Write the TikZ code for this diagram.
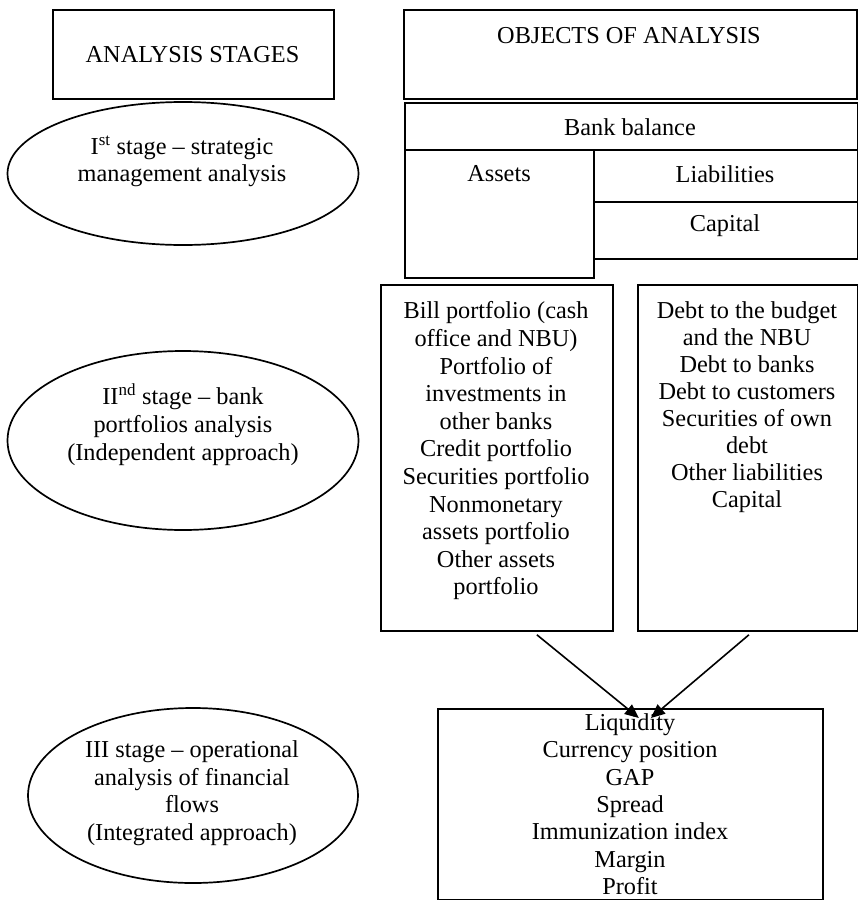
\documentclass[tikz,border=0pt]{standalone}
\usepackage{fontspec}
\setmainfont{Liberation Serif}
\usetikzlibrary{shapes.geometric,arrows.meta}
\begin{document}
\begin{tikzpicture}[x=1pt,y=-1pt,
  box/.style={draw,line width=1.8pt,inner sep=0pt,anchor=north west},
  oval/.style={draw,ellipse,line width=1.7pt,inner sep=0pt},
  txt/.style={font=\fontsize{24.3}{27.4}\selectfont,align=center,inner sep=0pt},
  toptxt/.style={txt,anchor=north},
  flow/.style={line width=1.6pt,-{Triangle[length=14pt,width=12pt]}}]
\useasboundingbox (0,0) rectangle (858,900);

% column headings
\node[box,minimum width=281pt,minimum height=89pt] (stages) at (52,9) {};
\node[txt] at (192.5,55) {ANALYSIS STAGES};
\node[box,minimum width=453pt,minimum height=89pt] (objects) at (403,9) {};
\node[txt] at (629,35.5) {OBJECTS OF ANALYSIS};

% stage ovals
\node[oval,minimum width=351pt,minimum height=143pt] (stageI) at (183,173.5) {};
\node[toptxt] at (182,135.5) {I\textsuperscript{st} stage -- strategic\\management analysis};
\node[oval,minimum width=351pt,minimum height=179pt] (stageII) at (183,440.5) {};
\node[toptxt,font=\fontsize{24.3}{28}\selectfont] at (183,383.5) {II\textsuperscript{nd} stage -- bank\\portfolios analysis\\(Independent approach)};
\node[oval,minimum width=330pt,minimum height=175pt] (stageIII) at (193,795.5) {};
\node[toptxt,font=\fontsize{24.3}{27.7}\selectfont] at (192,740.5) {III stage -- operational\\analysis of financial\\flows\\(Integrated approach)};

% bank balance
\node[box,minimum width=453pt,minimum height=47pt] (balance) at (404,102) {};
\node[txt] at (630,127) {Bank balance};
\node[box,minimum width=189pt,minimum height=128pt] (assets) at (404,149) {};
\node[txt] at (499,174) {Assets};
\node[box,minimum width=264pt,minimum height=52pt] (liab) at (593,149) {};
\node[txt] at (725,174) {Liabilities};
\node[box,minimum width=264pt,minimum height=57pt] (capital) at (593,201) {};
\node[txt] at (725,226) {Capital};

% portfolios
\node[box,minimum width=232pt,minimum height=346pt] (assetsP) at (380,284) {};
\node[toptxt,font=\fontsize{24.3}{27.6}\selectfont] at (496,301.5) {Bill portfolio (cash\\office and NBU)\\Portfolio of\\investments in\\other banks\\Credit portfolio\\Securities portfolio\\Nonmonetary\\assets portfolio\\Other assets\\portfolio};
\node[box,minimum width=220pt,minimum height=346pt] (liabP) at (637,284) {};
\node[toptxt,font=\fontsize{24.3}{27}\selectfont] at (747,301.5) {Debt to the budget\\and the NBU\\Debt to banks\\Debt to customers\\Securities of own\\debt\\Other liabilities\\Capital};

% integrated indicators
\node[box,minimum width=385pt,minimum height=191pt] (result) at (437,708) {};
\node[toptxt,font=\fontsize{24.3}{27.3}\selectfont] at (630,713.5) {Liquidity\\Currency position\\GAP\\Spread\\Immunization index\\Margin\\Profit};

% flows into the indicators
\coordinate (fromA) at ([xshift=40pt,yshift=-3pt]assetsP.south);
\coordinate (fromL) at ([xshift=1pt,yshift=-3pt]liabP.south);
\coordinate (toA) at ([xshift=8.5pt,yshift=-10pt]result.north);
\coordinate (toL) at ([xshift=20.5pt,yshift=-10pt]result.north);
\draw[flow] (fromA) -- (toA);
\draw[flow] (fromL) -- (toL);
\end{tikzpicture}
\end{document}
